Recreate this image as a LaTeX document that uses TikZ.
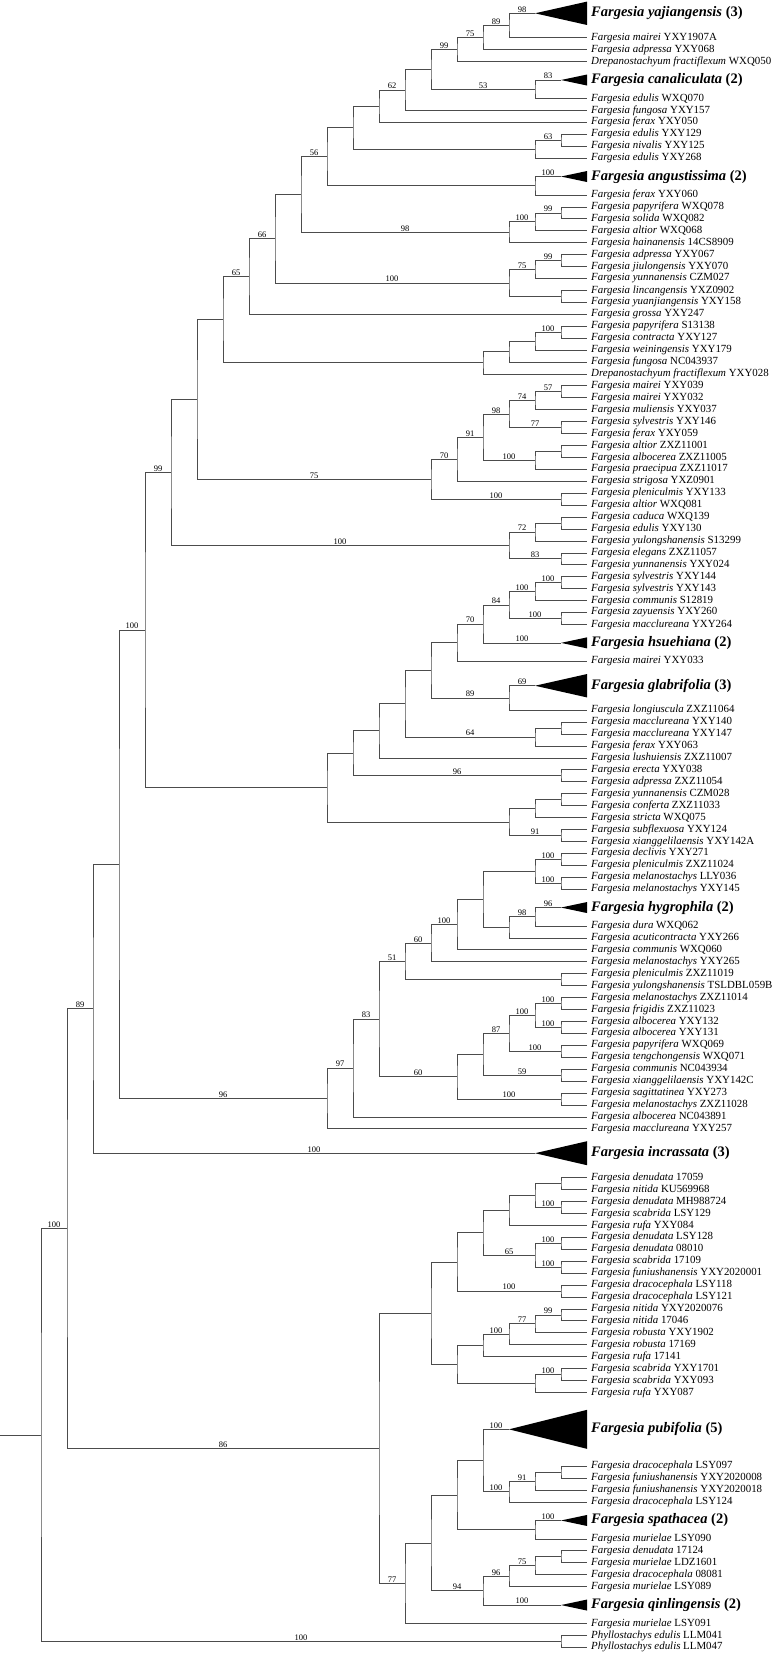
\documentclass[tikz,border=0pt]{standalone}
\usepackage{fontspec}
\setmainfont{Liberation Serif}
\usetikzlibrary{calc}

% running row position (pt, counted downwards)
\newcommand{\nextrow}[1][0]{\pgfmathsetmacro{\ycur}{\ycur+11.93+#1}}
% leaf: name, species, voucher
\newcommand{\taxon}[3]{%
  \coordinate (#1) at (587,-\ycur);
  \node[leaf] (#1-t) at (#1) {\textit{#2} #3};}
% collapsed clade: name, depth, half height, label
\newcommand{\clade}[4]{%
  \coordinate (#1) at ({587-26*#2},-\ycur);
  \fill[tri] (#1) -- (587,{-\ycur+#3}) -- (587,{-\ycur-#3}) -- cycle;
  \node[clab] (#1-t) at (587,-\ycur) {#4};}
% internal node: name, level, upper child, lower child, support upper, support lower
\newcommand{\joinnode}[6]{%
  \path let \p1=($(#3)!.5!(#4)$) in coordinate (#1) at ({587-26*#2},\y1);
  \draw[br] (#3) -| (#1) |- (#4);
  \ifx\relax#5\relax\else\node[bs] (#3-bs) at ($(#3)!.5!(#3 -| #1)$) {#5};\fi
  \ifx\relax#6\relax\else\node[bs] (#4-bs) at ($(#4)!.5!(#4 -| #1)$) {#6};\fi}

\begin{document}
\begin{tikzpicture}[x=1pt, y=1pt,
  br/.style={draw=black!70, line width=0.7pt},
  tri/.style={fill=black},
  leaf/.style={anchor=west, inner xsep=4pt, inner ysep=0pt, font=\fontsize{10.9}{12}\selectfont},
  clab/.style={anchor=west, inner xsep=4pt, inner ysep=0pt, font=\fontsize{14.5}{15}\selectfont\bfseries},
  bs/.style={anchor=south, inner sep=0.8pt, font=\fontsize{8.5}{9}\selectfont}]
\useasboundingbox (0,0) rectangle (774,-1653);
\def\ycur{13.3}

% upper clade
\clade{yaj}{2}{11.7}{\textit{Fargesia yajiangensis} (3)}
\nextrow[12.5]\taxon{YXY1907A}{Fargesia mairei}{YXY1907A}
\nextrow\taxon{YXY068}{Fargesia adpressa}{YXY068}
\nextrow\taxon{WXQ050}{Drepanostachyum fractiflexum}{WXQ050}
\nextrow[6.5]\clade{can}{1}{5.5}{\textit{Fargesia canaliculata} (2)}
\nextrow[6.5]\taxon{WXQ070}{Fargesia edulis}{WXQ070}
\nextrow\taxon{YXY157}{Fargesia fungosa}{YXY157}
\nextrow\taxon{YXY050}{Fargesia ferax}{YXY050}
\nextrow\taxon{YXY129}{Fargesia edulis}{YXY129}
\nextrow\taxon{YXY125}{Fargesia nivalis}{YXY125}
\nextrow\taxon{YXY268}{Fargesia edulis}{YXY268}
\nextrow[6.5]\clade{ang}{1}{5.5}{\textit{Fargesia angustissima} (2)}
\nextrow[6.5]\taxon{YXY060}{Fargesia ferax}{YXY060}
\nextrow\taxon{WXQ078}{Fargesia papyrifera}{WXQ078}
\nextrow\taxon{WXQ082}{Fargesia solida}{WXQ082}
\nextrow\taxon{WXQ068}{Fargesia altior}{WXQ068}
\nextrow\taxon{CS8909}{Fargesia hainanensis}{14CS8909}
\nextrow\taxon{YXY067}{Fargesia adpressa}{YXY067}
\nextrow\taxon{YXY070}{Fargesia jiulongensis}{YXY070}
\nextrow\taxon{CZM027}{Fargesia yunnanensis}{CZM027}
\nextrow\taxon{YXZ0902}{Fargesia lincangensis}{YXZ0902}
\nextrow\taxon{YXY158}{Fargesia yuanjiangensis}{YXY158}
\nextrow\taxon{YXY247}{Fargesia grossa}{YXY247}
\nextrow\taxon{S13138}{Fargesia papyrifera}{S13138}
\nextrow\taxon{YXY127}{Fargesia contracta}{YXY127}
\nextrow\taxon{YXY179}{Fargesia weiningensis}{YXY179}
\nextrow\taxon{NC043937}{Fargesia fungosa}{NC043937}
\nextrow\taxon{YXY028}{Drepanostachyum fractiflexum}{YXY028}
\nextrow\taxon{YXY039}{Fargesia mairei}{YXY039}
\nextrow\taxon{YXY032}{Fargesia mairei}{YXY032}
\nextrow\taxon{YXY037}{Fargesia muliensis}{YXY037}
\nextrow\taxon{YXY146}{Fargesia sylvestris}{YXY146}
\nextrow\taxon{YXY059}{Fargesia ferax}{YXY059}
\nextrow\taxon{ZXZ11001}{Fargesia altior}{ZXZ11001}
\nextrow\taxon{ZXZ11005}{Fargesia albocerea}{ZXZ11005}
\nextrow\taxon{ZXZ11017}{Fargesia praecipua}{ZXZ11017}
\nextrow\taxon{YXZ0901}{Fargesia strigosa}{YXZ0901}
\nextrow\taxon{YXY133}{Fargesia pleniculmis}{YXY133}
\nextrow\taxon{WXQ081}{Fargesia altior}{WXQ081}
\nextrow\taxon{WXQ139}{Fargesia caduca}{WXQ139}
\nextrow\taxon{YXY130}{Fargesia edulis}{YXY130}
\nextrow\taxon{S13299}{Fargesia yulongshanensis}{S13299}
\nextrow\taxon{ZXZ11057}{Fargesia elegans}{ZXZ11057}
\nextrow\taxon{YXY024}{Fargesia yunnanensis}{YXY024}

\joinnode{a1}{3}{yaj}{YXY1907A}{98}{}
\joinnode{a2}{4}{a1}{YXY068}{89}{}
\joinnode{a3}{5}{a2}{WXQ050}{75}{}
\joinnode{a4}{2}{can}{WXQ070}{83}{}
\joinnode{a5}{6}{a3}{a4}{99}{53}
\joinnode{a6}{7}{a5}{YXY157}{}{}
\joinnode{a7}{8}{a6}{YXY050}{62}{}
\joinnode{a8}{1}{YXY129}{YXY125}{}{}
\joinnode{a9}{2}{a8}{YXY268}{63}{}
\joinnode{a10}{9}{a7}{a9}{}{}
\joinnode{a11}{2}{ang}{YXY060}{100}{}
\joinnode{a12}{10}{a10}{a11}{}{}
\joinnode{a13}{1}{WXQ078}{WXQ082}{}{}
\joinnode{a14}{2}{a13}{WXQ068}{99}{}
\joinnode{a15}{3}{a14}{CS8909}{100}{}
\joinnode{a16}{11}{a12}{a15}{56}{98}
\joinnode{a17}{1}{YXY067}{YXY070}{}{}
\joinnode{a18}{2}{a17}{CZM027}{99}{}
\joinnode{a19}{1}{YXZ0902}{YXY158}{}{}
\joinnode{a20}{3}{a18}{a19}{75}{}
\joinnode{a21}{12}{a16}{a20}{}{100}
\joinnode{a22}{13}{a21}{YXY247}{66}{}
\joinnode{a23}{1}{S13138}{YXY127}{}{}
\joinnode{a24}{2}{a23}{YXY179}{100}{}
\joinnode{a25}{3}{a24}{NC043937}{}{}
\joinnode{a26}{4}{a25}{YXY028}{}{}
\joinnode{a27}{14}{a22}{a26}{65}{}
\joinnode{a28}{1}{YXY039}{YXY032}{}{}
\joinnode{a29}{2}{a28}{YXY037}{57}{}
\joinnode{a30}{1}{YXY146}{YXY059}{}{}
\joinnode{a31}{3}{a29}{a30}{74}{77}
\joinnode{a32}{1}{ZXZ11001}{ZXZ11005}{}{}
\joinnode{a33}{2}{a32}{ZXZ11017}{}{}
\joinnode{a34}{4}{a31}{a33}{98}{100}
\joinnode{a35}{5}{a34}{YXZ0901}{91}{}
\joinnode{a36}{1}{YXY133}{WXQ081}{}{}
\joinnode{a37}{6}{a35}{a36}{70}{100}
\joinnode{a38}{15}{a27}{a37}{}{75}
\joinnode{a39}{1}{WXQ139}{YXY130}{}{}
\joinnode{a40}{2}{a39}{S13299}{}{}
\joinnode{a41}{1}{ZXZ11057}{YXY024}{}{}
\joinnode{a42}{3}{a40}{a41}{72}{83}
\joinnode{a43}{16}{a38}{a42}{}{100}

% glabrifolia clade
\nextrow\taxon{YXY144}{Fargesia sylvestris}{YXY144}
\nextrow\taxon{YXY143}{Fargesia sylvestris}{YXY143}
\nextrow\taxon{S12819}{Fargesia communis}{S12819}
\nextrow\taxon{YXY260}{Fargesia zayuensis}{YXY260}
\nextrow\taxon{YXY264}{Fargesia macclureana}{YXY264}
\nextrow[6.5]\clade{hsu}{1}{5.5}{\textit{Fargesia hsuehiana} (2)}
\nextrow[6.5]\taxon{YXY033}{Fargesia mairei}{YXY033}
\nextrow[12.5]\clade{gla}{2}{11.7}{\textit{Fargesia glabrifolia} (3)}
\nextrow[12.5]\taxon{ZXZ11064}{Fargesia longiuscula}{ZXZ11064}
\nextrow\taxon{YXY140}{Fargesia macclureana}{YXY140}
\nextrow\taxon{YXY147}{Fargesia macclureana}{YXY147}
\nextrow\taxon{YXY063}{Fargesia ferax}{YXY063}
\nextrow\taxon{ZXZ11007}{Fargesia lushuiensis}{ZXZ11007}
\nextrow\taxon{YXY038}{Fargesia erecta}{YXY038}
\nextrow\taxon{ZXZ11054}{Fargesia adpressa}{ZXZ11054}
\nextrow\taxon{CZM028}{Fargesia yunnanensis}{CZM028}
\nextrow\taxon{ZXZ11033}{Fargesia conferta}{ZXZ11033}
\nextrow\taxon{WXQ075}{Fargesia stricta}{WXQ075}
\nextrow\taxon{YXY124}{Fargesia subflexuosa}{YXY124}
\nextrow\taxon{YXY142A}{Fargesia xianggelilaensis}{YXY142A}

\joinnode{b1}{1}{YXY144}{YXY143}{}{}
\joinnode{b2}{2}{b1}{S12819}{100}{}
\joinnode{b3}{1}{YXY260}{YXY264}{}{}
\joinnode{b4}{3}{b2}{b3}{100}{100}
\joinnode{b5}{4}{b4}{hsu}{84}{100}
\joinnode{b6}{5}{b5}{YXY033}{70}{}
\joinnode{b7}{3}{gla}{ZXZ11064}{69}{}
\joinnode{b8}{6}{b6}{b7}{}{89}
\joinnode{b9}{1}{YXY140}{YXY147}{}{}
\joinnode{b10}{2}{b9}{YXY063}{}{}
\joinnode{b11}{7}{b8}{b10}{}{64}
\joinnode{b12}{8}{b11}{ZXZ11007}{}{}
\joinnode{b13}{1}{YXY038}{ZXZ11054}{}{}
\joinnode{b14}{9}{b12}{b13}{}{96}
\joinnode{b15}{1}{CZM028}{ZXZ11033}{}{}
\joinnode{b16}{2}{b15}{WXQ075}{}{}
\joinnode{b17}{1}{YXY124}{YXY142A}{}{}
\joinnode{b18}{3}{b16}{b17}{}{91}
\joinnode{b19}{10}{b14}{b18}{}{}

% hygrophila clade
\nextrow\taxon{YXY271}{Fargesia declivis}{YXY271}
\nextrow\taxon{ZXZ11024}{Fargesia pleniculmis}{ZXZ11024}
\nextrow\taxon{LLY036}{Fargesia melanostachys}{LLY036}
\nextrow\taxon{YXY145}{Fargesia melanostachys}{YXY145}
\nextrow[6.5]\clade{hyg}{1}{5.5}{\textit{Fargesia hygrophila} (2)}
\nextrow[6.5]\taxon{WXQ062}{Fargesia dura}{WXQ062}
\nextrow\taxon{YXY266}{Fargesia acuticontracta}{YXY266}
\nextrow\taxon{WXQ060}{Fargesia communis}{WXQ060}
\nextrow\taxon{YXY265}{Fargesia melanostachys}{YXY265}
\nextrow\taxon{ZXZ11019}{Fargesia pleniculmis}{ZXZ11019}
\nextrow\taxon{TSLDBL059B}{Fargesia yulongshanensis}{TSLDBL059B}
\nextrow\taxon{ZXZ11014}{Fargesia melanostachys}{ZXZ11014}
\nextrow\taxon{ZXZ11023}{Fargesia frigidis}{ZXZ11023}
\nextrow\taxon{YXY132}{Fargesia albocerea}{YXY132}
\nextrow\taxon{YXY131}{Fargesia albocerea}{YXY131}
\nextrow\taxon{WXQ069}{Fargesia papyrifera}{WXQ069}
\nextrow\taxon{WXQ071}{Fargesia tengchongensis}{WXQ071}
\nextrow\taxon{NC043934}{Fargesia communis}{NC043934}
\nextrow\taxon{YXY142C}{Fargesia xianggelilaensis}{YXY142C}
\nextrow\taxon{YXY273}{Fargesia sagittatinea}{YXY273}
\nextrow\taxon{ZXZ11028}{Fargesia melanostachys}{ZXZ11028}
\nextrow\taxon{NC043891}{Fargesia albocerea}{NC043891}
\nextrow\taxon{YXY257}{Fargesia macclureana}{YXY257}

\joinnode{c1}{1}{YXY271}{ZXZ11024}{}{}
\joinnode{c2}{1}{LLY036}{YXY145}{}{}
\joinnode{c3}{2}{c1}{c2}{100}{100}
\joinnode{c4}{2}{hyg}{WXQ062}{96}{}
\joinnode{c5}{3}{c4}{YXY266}{98}{}
\joinnode{c6}{4}{c3}{c5}{}{}
\joinnode{c7}{5}{c6}{WXQ060}{}{}
\joinnode{c8}{6}{c7}{YXY265}{100}{}
\joinnode{c9}{1}{ZXZ11019}{TSLDBL059B}{}{}
\joinnode{c10}{7}{c8}{c9}{60}{}
\joinnode{c11}{1}{ZXZ11014}{ZXZ11023}{}{}
\joinnode{c12}{1}{YXY132}{YXY131}{}{}
\joinnode{c13}{2}{c11}{c12}{100}{100}
\joinnode{c14}{1}{WXQ069}{WXQ071}{}{}
\joinnode{c15}{3}{c13}{c14}{100}{100}
\joinnode{c16}{1}{NC043934}{YXY142C}{}{}
\joinnode{c17}{4}{c15}{c16}{87}{59}
\joinnode{c18}{1}{YXY273}{ZXZ11028}{}{}
\joinnode{c19}{5}{c17}{c18}{}{100}
\joinnode{c20}{8}{c10}{c19}{51}{60}
\joinnode{c21}{9}{c20}{NC043891}{83}{}
\joinnode{c22}{10}{c21}{YXY257}{97}{}

\nextrow[12.5]\clade{inc}{2}{12}{\textit{Fargesia incrassata} (3)}

% lower clade
\nextrow[12.5]\taxon{S17059}{Fargesia denudata}{17059}
\nextrow\taxon{KU569968}{Fargesia nitida}{KU569968}
\nextrow\taxon{MH988724}{Fargesia denudata}{MH988724}
\nextrow\taxon{LSY129}{Fargesia scabrida}{LSY129}
\nextrow\taxon{YXY084}{Fargesia rufa}{YXY084}
\nextrow\taxon{LSY128}{Fargesia denudata}{LSY128}
\nextrow\taxon{D08010}{Fargesia denudata}{08010}
\nextrow\taxon{S17109}{Fargesia scabrida}{17109}
\nextrow\taxon{YXY2020001}{Fargesia funiushanensis}{YXY2020001}
\nextrow\taxon{LSY118}{Fargesia dracocephala}{LSY118}
\nextrow\taxon{LSY121}{Fargesia dracocephala}{LSY121}
\nextrow\taxon{YXY2020076}{Fargesia nitida}{YXY2020076}
\nextrow\taxon{S17046}{Fargesia nitida}{17046}
\nextrow\taxon{YXY1902}{Fargesia robusta}{YXY1902}
\nextrow\taxon{S17169}{Fargesia robusta}{17169}
\nextrow\taxon{S17141}{Fargesia rufa}{17141}
\nextrow\taxon{YXY1701}{Fargesia scabrida}{YXY1701}
\nextrow\taxon{YXY093}{Fargesia scabrida}{YXY093}
\nextrow\taxon{YXY087}{Fargesia rufa}{YXY087}
\nextrow[25]\clade{pub}{3}{19.5}{\textit{Fargesia pubifolia} (5)}
\nextrow[25]\taxon{LSY097}{Fargesia dracocephala}{LSY097}
\nextrow\taxon{YXY2020008}{Fargesia funiushanensis}{YXY2020008}
\nextrow\taxon{YXY2020018}{Fargesia funiushanensis}{YXY2020018}
\nextrow\taxon{LSY124}{Fargesia dracocephala}{LSY124}
\nextrow[6.5]\clade{spa}{1}{5.5}{\textit{Fargesia spathacea} (2)}
\nextrow[6.5]\taxon{LSY090}{Fargesia murielae}{LSY090}
\nextrow\taxon{S17124}{Fargesia denudata}{17124}
\nextrow\taxon{LDZ1601}{Fargesia murielae}{LDZ1601}
\nextrow\taxon{D08081}{Fargesia dracocephala}{08081}
\nextrow\taxon{LSY089}{Fargesia murielae}{LSY089}
\nextrow[6.5]\clade{qin}{1}{5.5}{\textit{Fargesia qinlingensis} (2)}
\nextrow[6.5]\taxon{LSY091}{Fargesia murielae}{LSY091}
\nextrow\taxon{LLM041}{Phyllostachys edulis}{LLM041}
\nextrow\taxon{LLM047}{Phyllostachys edulis}{LLM047}

\joinnode{d1}{1}{S17059}{KU569968}{}{}
\joinnode{d2}{1}{MH988724}{LSY129}{}{}
\joinnode{d3}{2}{d1}{d2}{}{100}
\joinnode{d4}{3}{d3}{YXY084}{}{}
\joinnode{d5}{1}{LSY128}{D08010}{}{}
\joinnode{d6}{1}{S17109}{YXY2020001}{}{}
\joinnode{d7}{2}{d5}{d6}{100}{100}
\joinnode{d8}{4}{d4}{d7}{}{65}
\joinnode{d9}{1}{LSY118}{LSY121}{}{}
\joinnode{d10}{5}{d8}{d9}{}{100}
\joinnode{d11}{1}{YXY2020076}{S17046}{}{}
\joinnode{d12}{2}{d11}{YXY1902}{99}{}
\joinnode{d13}{3}{d12}{S17169}{77}{}
\joinnode{d14}{4}{d13}{S17141}{100}{}
\joinnode{d15}{1}{YXY1701}{YXY093}{}{}
\joinnode{d16}{2}{d15}{YXY087}{100}{}
\joinnode{d17}{5}{d14}{d16}{}{}
\joinnode{d18}{6}{d10}{d17}{}{}
\joinnode{d19}{1}{LSY097}{YXY2020008}{}{}
\joinnode{d20}{2}{d19}{YXY2020018}{}{}
\joinnode{d21}{3}{d20}{LSY124}{91}{}
\joinnode{d22}{4}{pub}{d21}{100}{100}
\joinnode{d23}{2}{spa}{LSY090}{100}{}
\joinnode{d24}{5}{d22}{d23}{}{}
\joinnode{d25}{1}{S17124}{LDZ1601}{}{}
\joinnode{d26}{2}{d25}{D08081}{}{}
\joinnode{d27}{3}{d26}{LSY089}{75}{}
\joinnode{d28}{4}{d27}{qin}{96}{100}
\joinnode{d29}{6}{d24}{d28}{}{94}
\joinnode{d30}{7}{d29}{LSY091}{}{}
\joinnode{d31}{8}{d18}{d30}{}{77}
\joinnode{ph}{1}{LLM041}{LLM047}{}{}

% backbone
\joinnode{e17}{17}{a43}{b19}{99}{}
\joinnode{e18}{18}{e17}{c22}{100}{96}
\joinnode{e19}{19}{e18}{inc}{}{100}
\joinnode{e20}{20}{e19}{d31}{89}{86}
\joinnode{root}{21}{e20}{ph}{100}{100}
\path let \p1=(root) in coordinate (base) at (0,\y1);
\draw[br] (base) -- (root);
\end{tikzpicture}
\end{document}
